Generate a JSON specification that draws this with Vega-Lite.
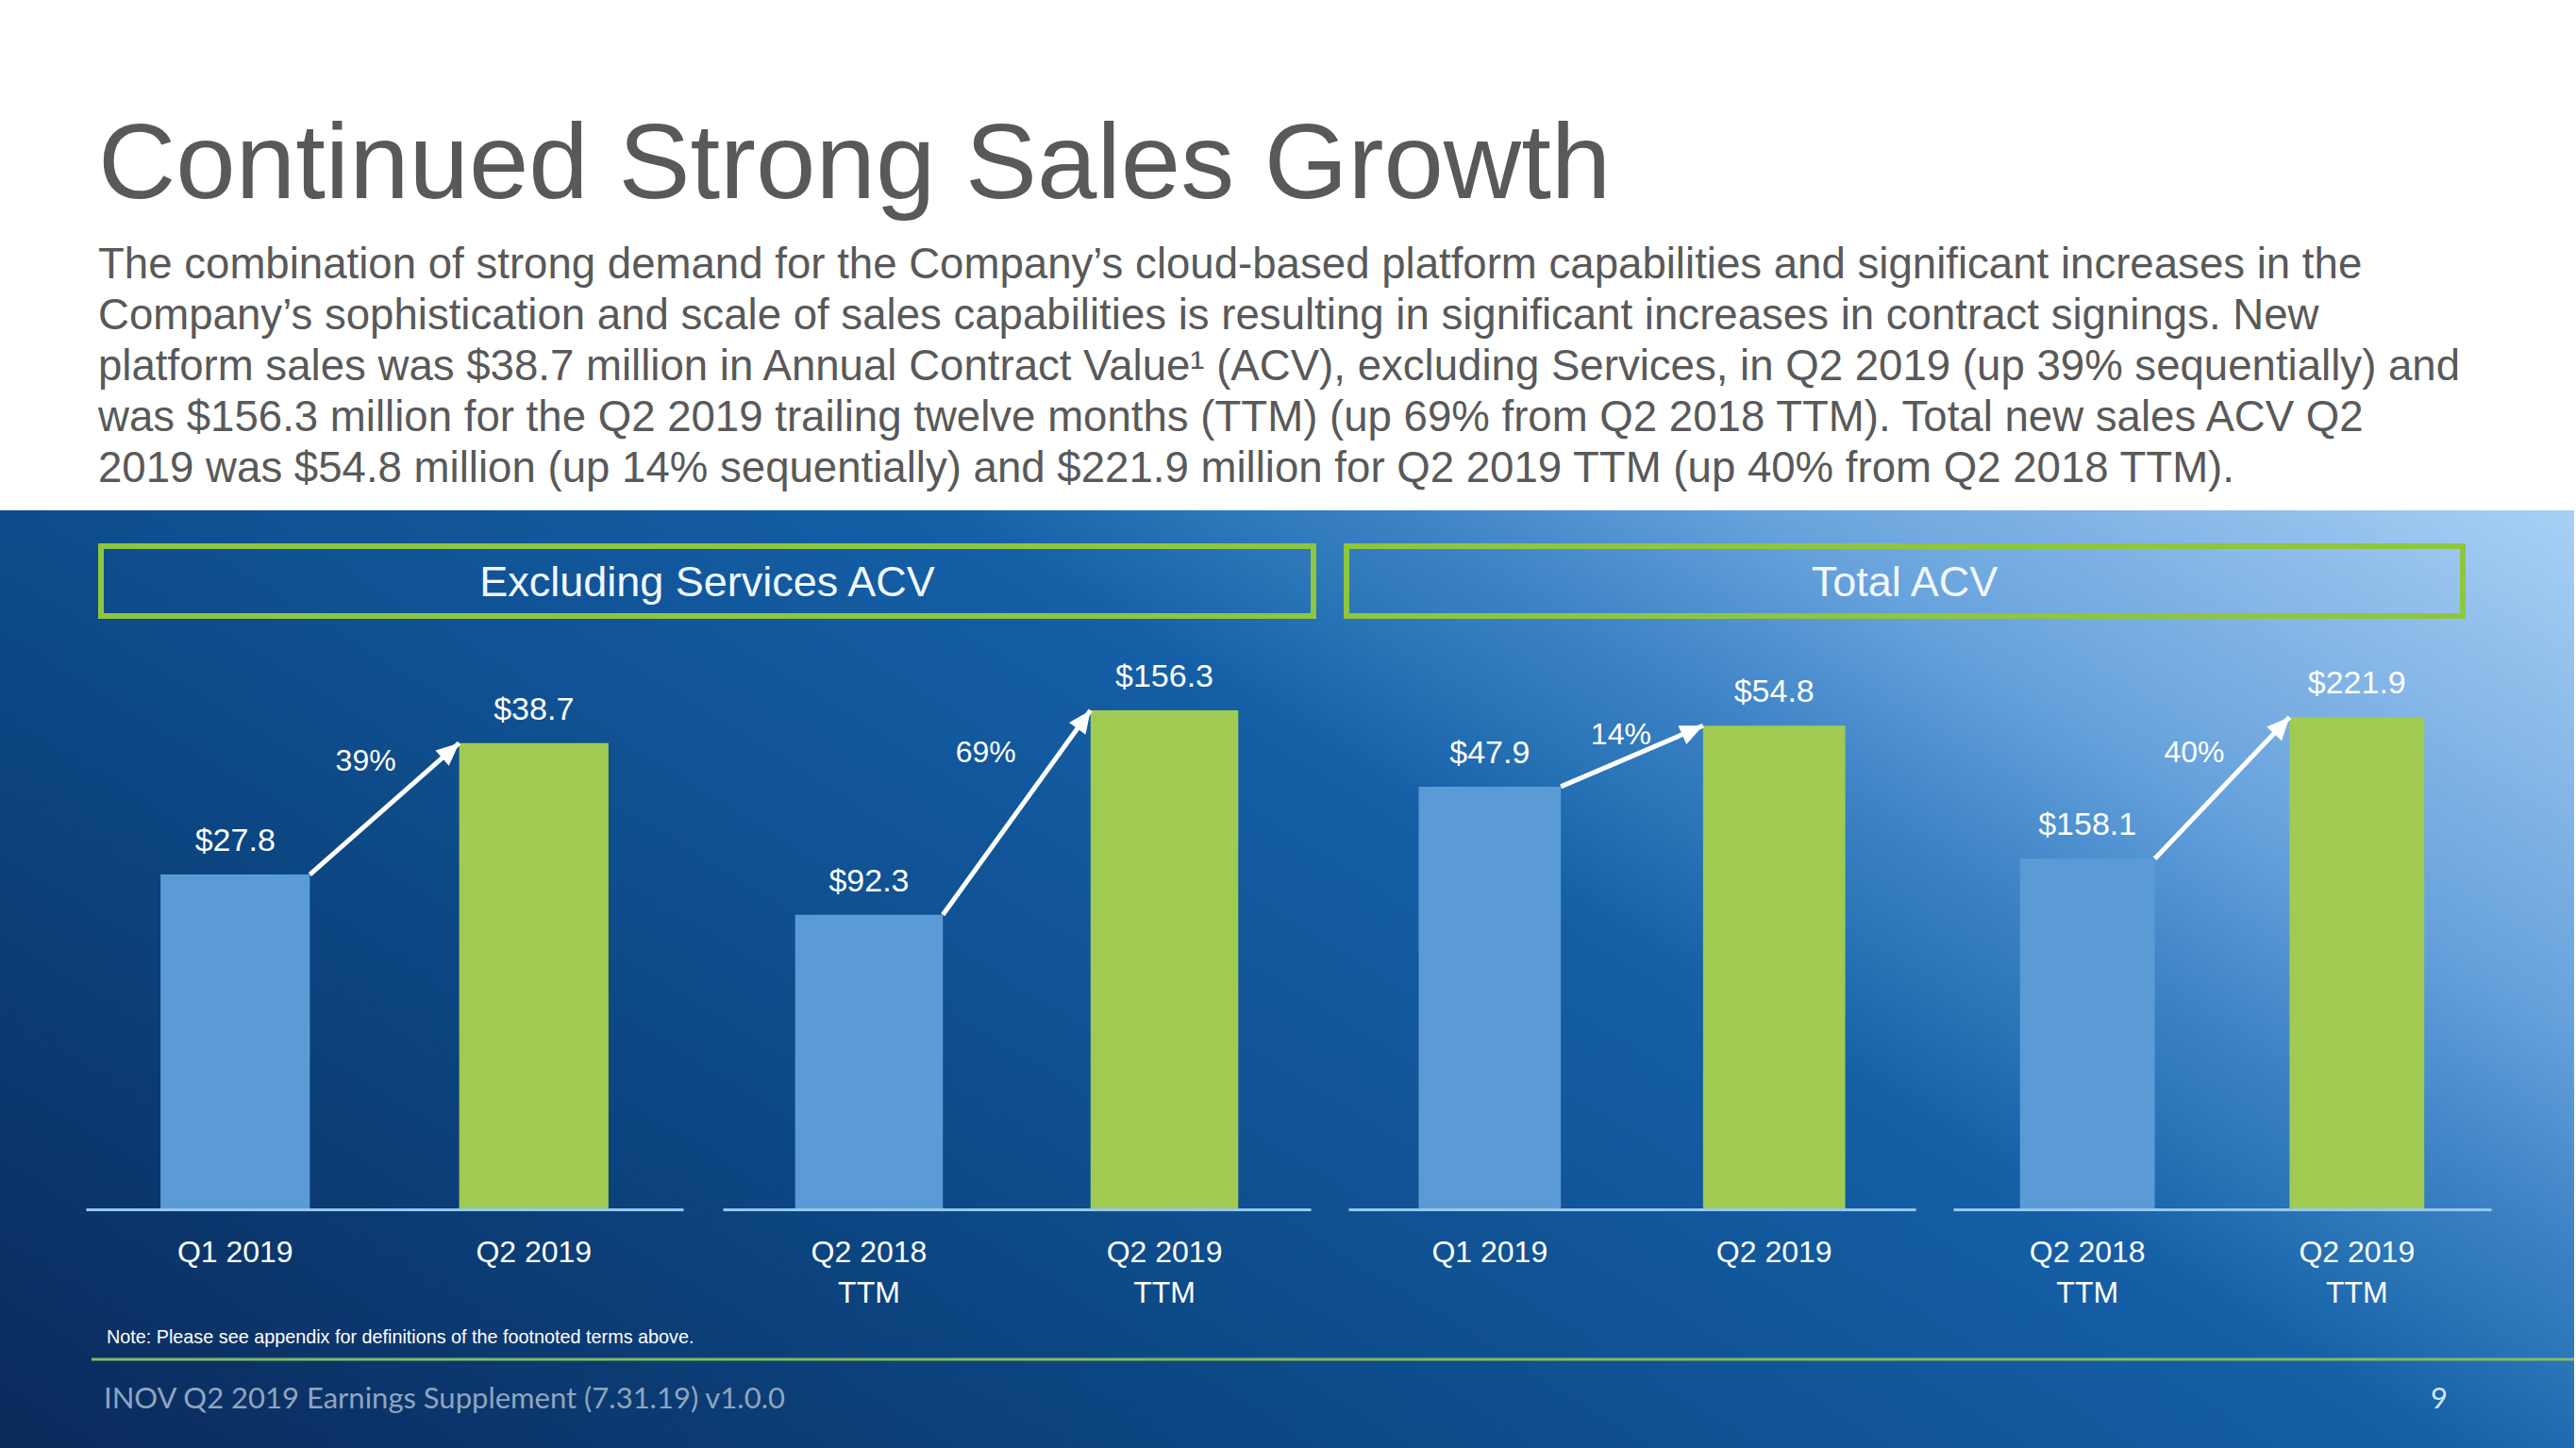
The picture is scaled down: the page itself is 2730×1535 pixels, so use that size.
{
  "$schema": "https://vega.github.io/schema/vega-lite/v6.json",
  "width": 2730,
  "height": 1535,
  "autosize": {"type": "fit", "contains": "padding"},
  "padding": {"top": 119, "left": 0, "right": 0, "bottom": 0},
  "background": "#ffffff",
  "config": {"view": {"stroke": null}, "font": "Liberation Sans"},
  "title": {
    "text": "Continued Strong Sales Growth",
    "subtitle": [
      "The combination of strong demand for the Company’s cloud-based platform capabilities and significant increases in the",
      "Company’s sophistication and scale of sales capabilities is resulting in significant increases in contract signings. New",
      "platform sales was $38.7 million in Annual Contract Value¹ (ACV), excluding Services, in Q2 2019 (up 39% sequentially) and",
      "was $156.3 million for the Q2 2019 trailing twelve months (TTM) (up 69% from Q2 2018 TTM). Total new sales ACV Q2",
      "2019 was $54.8 million (up 14% sequentially) and $221.9 million for Q2 2019 TTM (up 40% from Q2 2018 TTM)."
    ],
    "anchor": "start",
    "frame": "group",
    "dx": 104,
    "font": "Liberation Sans",
    "fontSize": 114,
    "fontWeight": "normal",
    "color": "#595959",
    "subtitleFont": "Liberation Sans",
    "subtitleFontSize": 45.6,
    "subtitleColor": "#595959",
    "subtitleLineHeight": 54,
    "subtitlePadding": 25,
    "offset": 19
  },
  "datasets": {
    "bars": [
      {"panel": 1, "period": "Q1 2019", "value": 27.8, "kind": "prior"},
      {"panel": 1, "period": "Q2 2019", "value": 38.7, "kind": "current"},
      {"panel": 2, "period": "Q2 2018 TTM", "value": 92.3, "kind": "prior"},
      {"panel": 2, "period": "Q2 2019 TTM", "value": 156.3, "kind": "current"},
      {"panel": 3, "period": "Q1 2019", "value": 47.9, "kind": "prior"},
      {"panel": 3, "period": "Q2 2019", "value": 54.8, "kind": "current"},
      {"panel": 4, "period": "Q2 2018 TTM", "value": 158.1, "kind": "prior"},
      {"panel": 4, "period": "Q2 2019 TTM", "value": 221.9, "kind": "current"}
    ],
    "changes": [
      {"panel": 1, "from": "Q1 2019", "to": "Q2 2019", "fromValue": 27.8, "toValue": 38.7, "pct": "39%"},
      {"panel": 2, "from": "Q2 2018 TTM", "to": "Q2 2019 TTM", "fromValue": 92.3, "toValue": 156.3, "pct": "69%"},
      {"panel": 3, "from": "Q1 2019", "to": "Q2 2019", "fromValue": 47.9, "toValue": 54.8, "pct": "14%"},
      {"panel": 4, "from": "Q2 2018 TTM", "to": "Q2 2019 TTM", "fromValue": 158.1, "toValue": 221.9, "pct": "40%"}
    ],
    "headings": [
      {"group": "Excluding Services ACV"},
      {"group": "Total ACV"}
    ],
    "footer": [
      {"note": "Note: Please see appendix for definitions of the footnoted terms above.", "doc": "INOV Q2 2019 Earnings Supplement (7.31.19) v1.0.0", "page": "9"}
    ]
  },
  "layer": [
    {
      "data": {"values": [{}]},
      "mark": {
        "type": "rect",
        "fill": {
          "gradient": "linear",
          "x1": 0, "y1": 1, "x2": 1.179, "y2": 0.308,
          "stops": [
            {"offset": 0, "color": "#0a2a5a"},
            {"offset": 0.06, "color": "#0b2f63"},
            {"offset": 0.3, "color": "#0c4682"},
            {"offset": 0.4, "color": "#0f4f8f"},
            {"offset": 0.6, "color": "#155fa7"},
            {"offset": 0.66, "color": "#2a75b7"},
            {"offset": 0.71, "color": "#3c82c5"},
            {"offset": 0.8, "color": "#67a2dc"},
            {"offset": 0.91, "color": "#8cbbe9"},
            {"offset": 1, "color": "#a8d0f5"}
          ]
        }
      },
      "encoding": {
        "x": {"value": 0}, "x2": {"value": "width"},
        "y": {"value": 0}, "y2": {"value": "height"}
      }
    },
    {
      "data": {"name": "headings"},
      "transform": [{"filter": "datum.group == 'Excluding Services ACV'"}],
      "layer": [
        {
          "mark": {"type": "rect", "fill": "transparent", "stroke": "#8dc63f", "strokeWidth": 6},
          "encoding": {"x": {"value": 107}, "x2": {"value": 1392}, "y": {"value": 38}, "y2": {"value": 112}}
        },
        {
          "mark": {"type": "text", "align": "center", "baseline": "middle", "fontSize": 45, "color": "#f2f8ff", "font": "Liberation Sans"},
          "encoding": {"text": {"field": "group"}, "x": {"value": 749.5}, "y": {"value": 77}}
        }
      ]
    },
    {
      "data": {"name": "headings"},
      "transform": [{"filter": "datum.group == 'Total ACV'"}],
      "layer": [
        {
          "mark": {"type": "rect", "fill": "transparent", "stroke": "#8dc63f", "strokeWidth": 6},
          "encoding": {"x": {"value": 1427}, "x2": {"value": 2610}, "y": {"value": 38}, "y2": {"value": 112}}
        },
        {
          "mark": {"type": "text", "align": "center", "baseline": "middle", "fontSize": 45, "color": "#f2f8ff", "font": "Liberation Sans"},
          "encoding": {"text": {"field": "group"}, "x": {"value": 2018.5}, "y": {"value": 77}}
        }
      ]
    },
    {
      "data": {"name": "bars"},
      "transform": [{"filter": "datum.panel == 1"}],
      "encoding": {
        "x": {"field": "period", "type": "nominal", "sort": null,
          "scale": {"domain": ["Q1 2019", "Q2 2019"], "range": [91, 724], "paddingInner": 0.5, "paddingOuter": 0.25},
          "axis": {"orient": "bottom", "offset": -253, "zindex": 1, "title": null, "ticks": false, "grid": false, "domainColor": "#93c8f2", "domainWidth": 3, "labelColor": "#ffffff", "labelFont": "Liberation Sans", "labelFontSize": 32, "labelPadding": 30, "labelAngle": 0, "labelLineHeight": 43, "labelExpr": "split(replace(datum.label, ' TTM', '|TTM'), '|')"}},
        "y": {"field": "value", "type": "quantitative", "scale": {"domain": [-19.78, 58.01], "nice": false, "zero": false}, "axis": null}
      },
      "layer": [
        {"mark": {"type": "bar"}, "encoding": {"y2": {"datum": 0}, "color": {"field": "kind", "type": "nominal", "scale": {"domain": ["prior", "current"], "range": ["#5b9bd5", "#a1ca52"]}, "legend": null}}},
        {"mark": {"type": "text", "dy": -35, "align": "center", "baseline": "middle", "fontSize": 34, "color": "#ffffff"}, "encoding": {"text": {"field": "value", "type": "quantitative", "format": "$.1f"}}},
        {"data": {"name": "changes"}, "transform": [{"filter": "datum.panel == 1"}], "layer": [
          {"mark": {"type": "rule", "color": "#ffffff", "strokeWidth": 5}, "encoding": {"x": {"field": "from", "type": "nominal", "bandPosition": 1}, "x2": {"field": "to", "bandPosition": 0}, "y": {"field": "fromValue", "type": "quantitative"}, "y2": {"field": "toValue"}}},
          {"mark": {"type": "point", "shape": "M0,0 L-0.45,1 L0.45,1 Z", "size": 2300, "filled": true, "color": "#ffffff", "opacity": 1, "angle": 48.7}, "encoding": {"x": {"field": "to", "type": "nominal", "bandPosition": 0}, "y": {"field": "toValue", "type": "quantitative"}}},
          {"mark": {"type": "text", "dx": -99, "dy": 19, "align": "center", "baseline": "middle", "fontSize": 32, "color": "#ffffff"}, "encoding": {"x": {"field": "to", "type": "nominal", "bandPosition": 0}, "y": {"field": "toValue", "type": "quantitative"}, "text": {"field": "pct"}}}
        ]}
      ]
    },
    {
      "data": {"name": "bars"},
      "transform": [{"filter": "datum.panel == 2"}],
      "encoding": {
        "x": {"field": "period", "type": "nominal", "sort": null,
          "scale": {"domain": ["Q2 2018 TTM", "Q2 2019 TTM"], "range": [766, 1389], "paddingInner": 0.5, "paddingOuter": 0.245},
          "axis": {"orient": "bottom", "offset": -253, "zindex": 1, "title": null, "ticks": false, "grid": false, "domainColor": "#93c8f2", "domainWidth": 3, "labelColor": "#ffffff", "labelFont": "Liberation Sans", "labelFontSize": 32, "labelPadding": 30, "labelAngle": 0, "labelLineHeight": 43, "labelExpr": "split(replace(datum.label, ' TTM', '|TTM'), '|')"}},
        "y": {"field": "value", "type": "quantitative", "scale": {"domain": [-74.63, 218.88], "nice": false, "zero": false}, "axis": null}
      },
      "layer": [
        {"mark": {"type": "bar"}, "encoding": {"y2": {"datum": 0}, "color": {"field": "kind", "type": "nominal", "scale": {"domain": ["prior", "current"], "range": ["#5b9bd5", "#a1ca52"]}, "legend": null}}},
        {"mark": {"type": "text", "dy": -35, "align": "center", "baseline": "middle", "fontSize": 34, "color": "#ffffff"}, "encoding": {"text": {"field": "value", "type": "quantitative", "format": "$.1f"}}},
        {"data": {"name": "changes"}, "transform": [{"filter": "datum.panel == 2"}], "layer": [
          {"mark": {"type": "rule", "color": "#ffffff", "strokeWidth": 5}, "encoding": {"x": {"field": "from", "type": "nominal", "bandPosition": 1}, "x2": {"field": "to", "bandPosition": 0}, "y": {"field": "fromValue", "type": "quantitative"}, "y2": {"field": "toValue"}}},
          {"mark": {"type": "point", "shape": "M0,0 L-0.45,1 L0.45,1 Z", "size": 2300, "filled": true, "color": "#ffffff", "opacity": 1, "angle": 35.8}, "encoding": {"x": {"field": "to", "type": "nominal", "bandPosition": 0}, "y": {"field": "toValue", "type": "quantitative"}}},
          {"mark": {"type": "text", "dx": -111, "dy": 45, "align": "center", "baseline": "middle", "fontSize": 32, "color": "#ffffff"}, "encoding": {"x": {"field": "to", "type": "nominal", "bandPosition": 0}, "y": {"field": "toValue", "type": "quantitative"}, "text": {"field": "pct"}}}
        ]}
      ]
    },
    {
      "data": {"name": "bars"},
      "transform": [{"filter": "datum.panel == 3"}],
      "encoding": {
        "x": {"field": "period", "type": "nominal", "sort": null,
          "scale": {"domain": ["Q1 2019", "Q2 2019"], "range": [1429, 2030], "paddingInner": 0.5, "paddingOuter": 0.247},
          "axis": {"orient": "bottom", "offset": -253, "zindex": 1, "title": null, "ticks": false, "grid": false, "domainColor": "#93c8f2", "domainWidth": 3, "labelColor": "#ffffff", "labelFont": "Liberation Sans", "labelFontSize": 32, "labelPadding": 30, "labelAngle": 0, "labelLineHeight": 43, "labelExpr": "split(replace(datum.label, ' TTM', '|TTM'), '|')"}},
        "y": {"field": "value", "type": "quantitative", "scale": {"domain": [-27.0, 79.19], "nice": false, "zero": false}, "axis": null}
      },
      "layer": [
        {"mark": {"type": "bar"}, "encoding": {"y2": {"datum": 0}, "color": {"field": "kind", "type": "nominal", "scale": {"domain": ["prior", "current"], "range": ["#5b9bd5", "#a1ca52"]}, "legend": null}}},
        {"mark": {"type": "text", "dy": -35, "align": "center", "baseline": "middle", "fontSize": 34, "color": "#ffffff"}, "encoding": {"text": {"field": "value", "type": "quantitative", "format": "$.1f"}}},
        {"data": {"name": "changes"}, "transform": [{"filter": "datum.panel == 3"}], "layer": [
          {"mark": {"type": "rule", "color": "#ffffff", "strokeWidth": 5}, "encoding": {"x": {"field": "from", "type": "nominal", "bandPosition": 1}, "x2": {"field": "to", "bandPosition": 0}, "y": {"field": "fromValue", "type": "quantitative"}, "y2": {"field": "toValue"}}},
          {"mark": {"type": "point", "shape": "M0,0 L-0.45,1 L0.45,1 Z", "size": 2300, "filled": true, "color": "#ffffff", "opacity": 1, "angle": 66.1}, "encoding": {"x": {"field": "to", "type": "nominal", "bandPosition": 0}, "y": {"field": "toValue", "type": "quantitative"}}},
          {"mark": {"type": "text", "dx": -87, "dy": 10, "align": "center", "baseline": "middle", "fontSize": 32, "color": "#ffffff"}, "encoding": {"x": {"field": "to", "type": "nominal", "bandPosition": 0}, "y": {"field": "toValue", "type": "quantitative"}, "text": {"field": "pct"}}}
        ]}
      ]
    },
    {
      "data": {"name": "bars"},
      "transform": [{"filter": "datum.panel == 4"}],
      "encoding": {
        "x": {"field": "period", "type": "nominal", "sort": null,
          "scale": {"domain": ["Q2 2018 TTM", "Q2 2019 TTM"], "range": [2070, 2640], "paddingInner": 0.5, "paddingOuter": 0.248},
          "axis": {"orient": "bottom", "offset": -253, "zindex": 1, "title": null, "ticks": false, "grid": false, "domainColor": "#93c8f2", "domainWidth": 3, "labelColor": "#ffffff", "labelFont": "Liberation Sans", "labelFontSize": 32, "labelPadding": 30, "labelAngle": 0, "labelLineHeight": 43, "labelExpr": "split(replace(datum.label, ' TTM', '|TTM'), '|')"}},
        "y": {"field": "value", "type": "quantitative", "scale": {"domain": [-107.43, 315.07], "nice": false, "zero": false}, "axis": null}
      },
      "layer": [
        {"mark": {"type": "bar"}, "encoding": {"y2": {"datum": 0}, "color": {"field": "kind", "type": "nominal", "scale": {"domain": ["prior", "current"], "range": ["#5b9bd5", "#a1ca52"]}, "legend": null}}},
        {"mark": {"type": "text", "dy": -35, "align": "center", "baseline": "middle", "fontSize": 34, "color": "#ffffff"}, "encoding": {"text": {"field": "value", "type": "quantitative", "format": "$.1f"}}},
        {"data": {"name": "changes"}, "transform": [{"filter": "datum.panel == 4"}], "layer": [
          {"mark": {"type": "rule", "color": "#ffffff", "strokeWidth": 5}, "encoding": {"x": {"field": "from", "type": "nominal", "bandPosition": 1}, "x2": {"field": "to", "bandPosition": 0}, "y": {"field": "fromValue", "type": "quantitative"}, "y2": {"field": "toValue"}}},
          {"mark": {"type": "point", "shape": "M0,0 L-0.45,1 L0.45,1 Z", "size": 2300, "filled": true, "color": "#ffffff", "opacity": 1, "angle": 42.6}, "encoding": {"x": {"field": "to", "type": "nominal", "bandPosition": 0}, "y": {"field": "toValue", "type": "quantitative"}}},
          {"mark": {"type": "text", "dx": -101, "dy": 38, "align": "center", "baseline": "middle", "fontSize": 32, "color": "#ffffff"}, "encoding": {"x": {"field": "to", "type": "nominal", "bandPosition": 0}, "y": {"field": "toValue", "type": "quantitative"}, "text": {"field": "pct"}}}
        ]}
      ]
    },
    {
      "data": {"name": "footer"},
      "layer": [
        {"mark": {"type": "text", "align": "left", "baseline": "middle", "fontSize": 19.8, "color": "#ffffff", "font": "Liberation Sans"}, "encoding": {"text": {"field": "note"}, "x": {"value": 113}, "y": {"value": 877}}},
        {"mark": {"type": "rule", "color": "#84bb5c", "strokeWidth": 3}, "encoding": {"x": {"value": 97}, "x2": {"value": "width"}, "y": {"value": 900}}},
        {"mark": {"type": "text", "align": "left", "baseline": "middle", "fontSize": 31, "color": "#8fa5be", "font": "Lato"}, "encoding": {"text": {"field": "doc"}, "x": {"value": 110}, "y": {"value": 943}}},
        {"mark": {"type": "text", "align": "center", "baseline": "middle", "fontSize": 31, "color": "#d2e7f8", "font": "Lato"}, "encoding": {"text": {"field": "page"}, "x": {"value": 2585}, "y": {"value": 943}}}
      ]
    }
  ],
  "resolve": {"scale": {"x": "independent", "y": "independent"}, "axis": {"x": "independent"}}
}
